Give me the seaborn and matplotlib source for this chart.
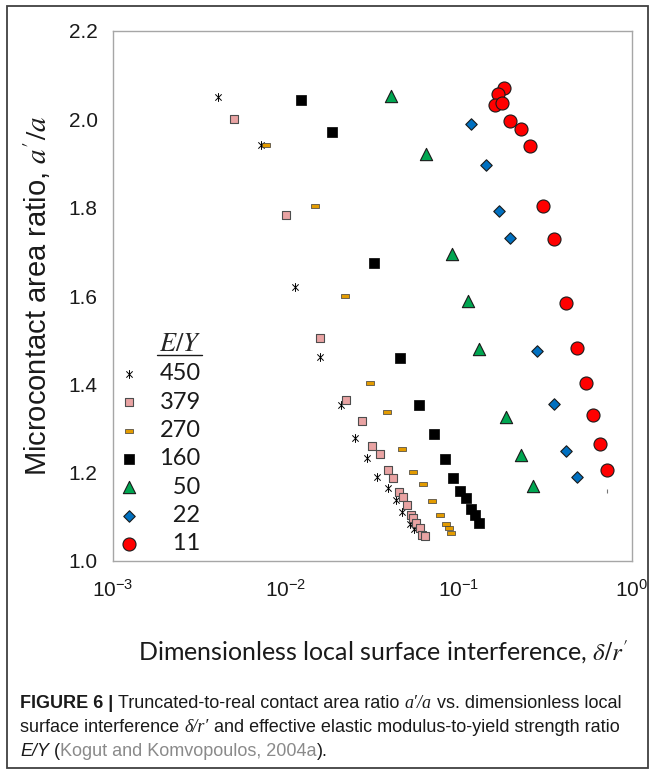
import matplotlib
matplotlib.use("Agg")
import numpy as np
import pandas as pd
import seaborn as sns
from matplotlib import pyplot as plt
from matplotlib.font_manager import FontProperties
from matplotlib.lines import Line2D
from matplotlib.patches import Rectangle
from matplotlib.path import Path
from matplotlib.ticker import FormatStrFormatter, LogLocator

# E/Y = 450
x_450 = [0.00402, 0.00716, 0.01125, 0.0157, 0.0207, 0.0249, 0.0292, 0.0334, 0.0388, 0.0434, 0.0467, 0.0519, 0.0548]
y_450 = [2.050, 1.943, 1.621, 1.463, 1.354, 1.279, 1.234, 1.190, 1.166, 1.138, 1.111, 1.083, 1.072]
# E/Y = 379
x_379 = [0.00502, 0.01004, 0.0157, 0.0222, 0.0275, 0.0316, 0.0351, 0.0388, 0.0418, 0.0449, 0.0472,
         0.0502, 0.0525, 0.0542, 0.0564, 0.0593, 0.0609, 0.0637]
y_379 = [2.000, 1.783, 1.505, 1.365, 1.318, 1.261, 1.242, 1.207, 1.187, 1.157, 1.145,
         1.126, 1.105, 1.098, 1.087, 1.074, 1.060, 1.056]
# E/Y = 270
x_270 = [0.0077, 0.01476, 0.0220, 0.0306, 0.0385, 0.0467, 0.0542, 0.0619, 0.0701, 0.0775, 0.0842, 0.0875, 0.0900]
y_270 = [1.943, 1.804, 1.599, 1.402, 1.337, 1.254, 1.201, 1.174, 1.136, 1.105, 1.084, 1.074, 1.064]
# E/Y = 160
x_160 = [0.01222, 0.01854, 0.0321, 0.0454, 0.0586, 0.0720, 0.0828, 0.0925, 0.1017, 0.110, 0.1175, 0.124, 0.131]
y_160 = [2.044, 1.972, 1.674, 1.460, 1.353, 1.287, 1.231, 1.189, 1.159, 1.142, 1.117, 1.104, 1.087]
# E/Y = 50
x_50 = [0.0406, 0.0644, 0.0916, 0.1125, 0.130, 0.186, 0.229, 0.268]
y_50 = [2.053, 1.921, 1.695, 1.588, 1.480, 1.325, 1.241, 1.169]
# E/Y = 22
x_22 = [0.1175, 0.1425, 0.1714, 0.196, 0.284, 0.3535, 0.418, 0.482]
y_22 = [1.990, 1.896, 1.793, 1.731, 1.476, 1.355, 1.249, 1.190]
# E/Y = 11
x_11 = [0.183, 0.1686, 0.162, 0.1774, 0.196, 0.229, 0.2576, 0.3077, 0.3535, 0.418, 0.482, 0.539, 0.593, 0.652, 0.716]
y_11 = [2.070, 2.058, 2.032, 2.037, 1.997, 1.978, 1.939, 1.804, 1.728, 1.585, 1.483, 1.403, 1.330, 1.266, 1.207]
# stray mark in the original figure
x_stray = [0.716]
y_stray = [1.158]

ey_labels = ["450", "379", "270", "160", "50", "22", "11"]
y_ticks = [1.0, 1.2, 1.4, 1.6, 1.8, 2.0, 2.2]

W, H = 655, 771

sns.set_theme(style="white")
plt.rcParams["font.family"] = ["Liberation Sans", "DejaVu Sans"]
plt.rcParams["mathtext.fontset"] = "stix"

fig = plt.figure(figsize=(W / 100, H / 100), dpi=100)
ax = fig.add_axes([113 / W, 1 - 561 / H, 519 / W, 530 / H])

# Excel-like markers: "x" with a vertical stroke, and a small flat dash
star = Path([(0, -1), (0, 1), (-0.72, -0.72), (0.72, 0.72), (-0.72, 0.72), (0.72, -0.72)],
            [Path.MOVETO, Path.LINETO] * 3)
dash = [(-1, -0.42), (1, -0.42), (1, 0.42), (-1, 0.42), (-1, -0.42)]
series = [
    (x_450, y_450, dict(marker=star, s=40, color="black", edgecolor="black", linewidth=0.7)),
    (x_379, y_379, dict(marker="s", s=28, color="#E9A3A3", edgecolor="#4d4d4d", linewidth=0.8)),
    (x_270, y_270, dict(marker=dash, s=38, color="#E39B00", edgecolor="#3a3a3a", linewidth=0.5)),
    (x_160, y_160, dict(marker="s", s=62, color="black", edgecolor="black", linewidth=0.5)),
    (x_50, y_50, dict(marker="^", s=78, color="#00A651", edgecolor="#1a1a1a", linewidth=0.8)),
    (x_22, y_22, dict(marker="D", s=34, color="#0070C0", edgecolor="#1a1a1a", linewidth=0.8)),
    (x_11, y_11, dict(marker="o", s=88, color="#FF0000", edgecolor="#1a1a1a", linewidth=0.8)),
]
for (xs, ys, kw), lab in zip(series, ey_labels):
    label = lab if len(lab) == 3 else "\u2007" + lab
    sns.scatterplot(x=xs, y=ys, ax=ax, label=label, zorder=3, **kw)
sns.scatterplot(x=x_stray, y=y_stray, ax=ax, marker="|", s=12, color="#777777", linewidth=0.8, legend=False)

ax.set_xscale("log")
ax.set_xlim(1e-3, 1)
ax.set_ylim(1.0, 2.2)
ax.xaxis.set_major_locator(LogLocator(base=10, numticks=10))
ax.xaxis.set_minor_locator(plt.NullLocator())
ax.set_yticks(y_ticks)
ax.yaxis.set_major_formatter(FormatStrFormatter("%.1f"))

for sp in ax.spines.values():
    sp.set_color("#a6a6a6")
    sp.set_linewidth(1.0)
ax.tick_params(axis="both", which="major", direction="out", length=3.6, width=1.0,
               color="#a6a6a6", labelsize=15, labelcolor="#1a1a1a", pad=7.5)
ax.tick_params(axis="x", pad=9)

ax.set_ylabel("Microcontact area ratio, $a'/a$", fontsize=21, color="#1a1a1a", labelpad=11)
ax.set_xlabel("Dimensionless local surface interference, $\\delta/r'$", fontsize=18,
              family=["Lato", "DejaVu Sans"], color="#1a1a1a", labelpad=24)
ax.xaxis.set_label_coords(0.52, -0.145)

leg = ax.legend(loc="upper left", bbox_to_anchor=(0.0077, 0.432), frameon=False, borderpad=0,
                prop=FontProperties(family=["Lato", "DejaVu Sans"], size=17),
                title="$E/Y$", title_fontproperties=FontProperties(size=19),
                handlelength=1.0, handletextpad=0.8, labelspacing=0.31, alignment="right",
                borderaxespad=0)
for t in leg.get_texts():
    t.set_color("#1a1a1a")

# outer frame around the whole figure
fig.patches.append(Rectangle((7 / W, 1 - 768 / H), 641 / W, 762 / H, transform=fig.transFigure,
                             fill=False, edgecolor="#404040", linewidth=1.3))

fig.canvas.draw()
renderer = fig.canvas.get_renderer()

# underline under the legend title
tb = leg.get_title().get_window_extent(renderer)
fig.lines.append(Line2D([tb.x0 - 2, tb.x1 + 1], [tb.y0 + 1, tb.y0 + 1], transform=None,
                        color="#1a1a1a", linewidth=1.0))

# caption, laid out run by run
cap_size = 13
dark = "#1a1a1a"
gray = "#8a8a8a"


def width_of(txt, **kw):
    t = fig.text(0, 0, txt, fontsize=cap_size, **kw)
    w = t.get_window_extent(renderer).width
    t.remove()
    return w


space = width_of("a a") - width_of("aa")

normal = dict(color=dark)
bold = dict(color=dark, weight="bold")
ital = dict(color=dark, family=["Liberation Serif"], style="italic")
sital = dict(color=dark, style="italic")
cite = dict(color=gray)

caption_lines = [
    (708, [("FIGURE 6 |", bold), ("Truncated-to-real contact area ratio", normal), ("a\u2032/a", ital),
           ("vs. dimensionless local", normal)]),
    (732, [("surface interference", normal), ("\u03b4/r\u2032", ital),
           ("and effective elastic modulus-to-yield strength ratio", normal)]),
    (756, [("E/Y", sital), ("(", normal, False), ("Kogut and Komvopoulos, 2004a", cite, True),
           (").", normal, True)]),
]
for ybase, runs in caption_lines:
    x = 20
    for i, run in enumerate(runs):
        txt, kw = run[0], run[1]
        glue = run[2] if len(run) > 2 else False
        if i > 0 and not glue:
            x += space
        t = fig.text(x / W, 1 - ybase / H, txt, fontsize=cap_size, va="baseline", ha="left", **kw)
        x += t.get_window_extent(renderer).width

fig.savefig("out.png", dpi=100)
